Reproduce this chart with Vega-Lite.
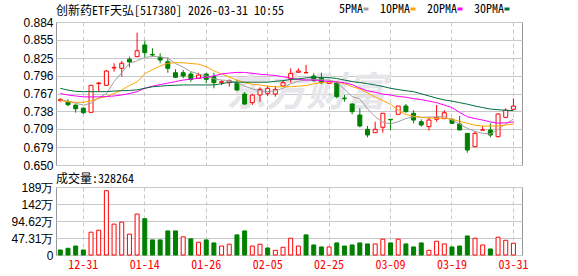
{
  "$schema": "https://vega.github.io/schema/vega-lite/v6.json",
  "background": "white",
  "padding": {"left": 10, "top": 3, "right": 0, "bottom": 0},
  "spacing": 0,
  "datasets": {
    "k": [
      {"d":"12-26","o":0.7553,"h":0.7591,"l":0.7536,"c":0.7573,"v":140000,"dir":"up","vdir":"down","5PMA":0.7564,"10PMA":0.7555,"20PMA":0.767,"30PMA":0.7755},
      {"d":"12-29","o":0.7536,"h":0.7575,"l":0.7465,"c":0.7485,"v":187000,"dir":"down","vdir":"down","5PMA":0.7545,"10PMA":0.7535,"20PMA":0.7645,"30PMA":0.7725},
      {"d":"12-30","o":0.748,"h":0.749,"l":0.7356,"c":0.742,"v":250000,"dir":"down","vdir":"down","5PMA":0.751,"10PMA":0.7527,"20PMA":0.763,"30PMA":0.7705},
      {"d":"12-31","o":0.743,"h":0.744,"l":0.7334,"c":0.7356,"v":140000,"dir":"down","vdir":"down","5PMA":0.748,"10PMA":0.7525,"20PMA":0.7615,"30PMA":0.77},
      {"d":"01-05","o":0.7362,"h":0.781,"l":0.7355,"c":0.7804,"v":635000,"dir":"up","vdir":"up","5PMA":0.751,"10PMA":0.755,"20PMA":0.7615,"30PMA":0.77},
      {"d":"01-06","o":0.7832,"h":0.786,"l":0.77,"c":0.7842,"v":690000,"dir":"up","vdir":"up","5PMA":0.76,"10PMA":0.759,"20PMA":0.7615,"30PMA":0.77},
      {"d":"01-07","o":0.7804,"h":0.8055,"l":0.78,"c":0.8038,"v":1790000,"dir":"up","vdir":"up","5PMA":0.7665,"10PMA":0.762,"20PMA":0.762,"30PMA":0.77},
      {"d":"01-08","o":0.8088,"h":0.8164,"l":0.8027,"c":0.8098,"v":860000,"dir":"up","vdir":"up","5PMA":0.7865,"10PMA":0.767,"20PMA":0.763,"30PMA":0.771},
      {"d":"01-09","o":0.8082,"h":0.8202,"l":0.7945,"c":0.8164,"v":915000,"dir":"up","vdir":"up","5PMA":0.801,"10PMA":0.773,"20PMA":0.7645,"30PMA":0.7715},
      {"d":"01-12","o":0.823,"h":0.8273,"l":0.8099,"c":0.8186,"v":580000,"dir":"down","vdir":"up","5PMA":0.8165,"10PMA":0.78,"20PMA":0.767,"30PMA":0.772},
      {"d":"01-13","o":0.8273,"h":0.8665,"l":0.8273,"c":0.837,"v":1140000,"dir":"up","vdir":"up","5PMA":0.8205,"10PMA":0.786,"20PMA":0.77,"30PMA":0.773},
      {"d":"01-14","o":0.8464,"h":0.8534,"l":0.8262,"c":0.8338,"v":1010000,"dir":"down","vdir":"down","5PMA":0.826,"10PMA":0.7995,"20PMA":0.7755,"30PMA":0.7755},
      {"d":"01-15","o":0.831,"h":0.841,"l":0.8273,"c":0.83,"v":420000,"dir":"down","vdir":"down","5PMA":0.8275,"10PMA":0.806,"20PMA":0.779,"30PMA":0.778},
      {"d":"01-16","o":0.8262,"h":0.8328,"l":0.8164,"c":0.8218,"v":420000,"dir":"down","vdir":"down","5PMA":0.827,"10PMA":0.812,"20PMA":0.7815,"30PMA":0.779},
      {"d":"01-19","o":0.819,"h":0.8262,"l":0.801,"c":0.8082,"v":670000,"dir":"down","vdir":"down","5PMA":0.8245,"10PMA":0.8165,"20PMA":0.784,"30PMA":0.78},
      {"d":"01-20","o":0.801,"h":0.8066,"l":0.7929,"c":0.7935,"v":670000,"dir":"down","vdir":"down","5PMA":0.816,"10PMA":0.8174,"20PMA":0.7865,"30PMA":0.7805},
      {"d":"01-21","o":0.801,"h":0.8055,"l":0.7919,"c":0.7956,"v":505000,"dir":"down","vdir":"up","5PMA":0.81,"10PMA":0.8174,"20PMA":0.789,"30PMA":0.781},
      {"d":"01-22","o":0.7989,"h":0.8027,"l":0.7863,"c":0.7902,"v":450000,"dir":"down","vdir":"down","5PMA":0.8027,"10PMA":0.816,"20PMA":0.7905,"30PMA":0.781},
      {"d":"01-23","o":0.7919,"h":0.801,"l":0.7919,"c":0.7973,"v":355000,"dir":"up","vdir":"up","5PMA":0.799,"10PMA":0.815,"20PMA":0.792,"30PMA":0.781},
      {"d":"01-26","o":0.7989,"h":0.8,"l":0.7837,"c":0.7902,"v":420000,"dir":"down","vdir":"down","5PMA":0.7956,"10PMA":0.811,"20PMA":0.7935,"30PMA":0.781},
      {"d":"01-27","o":0.7945,"h":0.801,"l":0.7755,"c":0.7847,"v":336000,"dir":"down","vdir":"down","5PMA":0.791,"10PMA":0.804,"20PMA":0.796,"30PMA":0.781},
      {"d":"01-28","o":0.7853,"h":0.7886,"l":0.7809,"c":0.7863,"v":250000,"dir":"up","vdir":"up","5PMA":0.789,"10PMA":0.799,"20PMA":0.799,"30PMA":0.783},
      {"d":"01-29","o":0.7847,"h":0.7902,"l":0.7782,"c":0.788,"v":300000,"dir":"up","vdir":"up","5PMA":0.788,"10PMA":0.794,"20PMA":0.8005,"30PMA":0.7855},
      {"d":"01-30","o":0.7837,"h":0.7891,"l":0.7716,"c":0.7727,"v":560000,"dir":"down","vdir":"down","5PMA":0.785,"10PMA":0.789,"20PMA":0.8015,"30PMA":0.7855},
      {"d":"02-02","o":0.7662,"h":0.769,"l":0.7482,"c":0.7498,"v":670000,"dir":"down","vdir":"down","5PMA":0.779,"10PMA":0.785,"20PMA":0.8015,"30PMA":0.7855},
      {"d":"02-03","o":0.752,"h":0.7662,"l":0.7482,"c":0.7645,"v":250000,"dir":"up","vdir":"up","5PMA":0.7745,"10PMA":0.782,"20PMA":0.8,"30PMA":0.7855},
      {"d":"02-04","o":0.7645,"h":0.7771,"l":0.7536,"c":0.7738,"v":300000,"dir":"up","vdir":"up","5PMA":0.7715,"10PMA":0.781,"20PMA":0.7985,"30PMA":0.7855},
      {"d":"02-05","o":0.7673,"h":0.7793,"l":0.7629,"c":0.7755,"v":196000,"dir":"up","vdir":"down","5PMA":0.77,"10PMA":0.779,"20PMA":0.7975,"30PMA":0.7855},
      {"d":"02-06","o":0.7662,"h":0.7793,"l":0.7618,"c":0.7738,"v":130000,"dir":"up","vdir":"up","5PMA":0.7715,"10PMA":0.778,"20PMA":0.7965,"30PMA":0.787},
      {"d":"02-09","o":0.7793,"h":0.788,"l":0.7793,"c":0.7847,"v":215000,"dir":"up","vdir":"up","5PMA":0.7755,"10PMA":0.778,"20PMA":0.7945,"30PMA":0.788},
      {"d":"02-10","o":0.7912,"h":0.8082,"l":0.7847,"c":0.8,"v":467000,"dir":"up","vdir":"up","5PMA":0.783,"10PMA":0.778,"20PMA":0.792,"30PMA":0.79},
      {"d":"02-11","o":0.8017,"h":0.8082,"l":0.8017,"c":0.8038,"v":250000,"dir":"up","vdir":"up","5PMA":0.787,"10PMA":0.779,"20PMA":0.79,"30PMA":0.791},
      {"d":"02-12","o":0.801,"h":0.8137,"l":0.801,"c":0.801,"v":560000,"dir":"up","vdir":"down","5PMA":0.789,"10PMA":0.78,"20PMA":0.789,"30PMA":0.7925},
      {"d":"02-13","o":0.7956,"h":0.8,"l":0.7863,"c":0.788,"v":280000,"dir":"down","vdir":"down","5PMA":0.79,"10PMA":0.783,"20PMA":0.789,"30PMA":0.7935},
      {"d":"02-24","o":0.7919,"h":0.801,"l":0.7825,"c":0.7847,"v":224000,"dir":"down","vdir":"down","5PMA":0.7895,"10PMA":0.785,"20PMA":0.788,"30PMA":0.7935},
      {"d":"02-25","o":0.7837,"h":0.788,"l":0.783,"c":0.7869,"v":224000,"dir":"up","vdir":"up","5PMA":0.789,"10PMA":0.786,"20PMA":0.7865,"30PMA":0.793},
      {"d":"02-26","o":0.784,"h":0.786,"l":0.7591,"c":0.7618,"v":336000,"dir":"down","vdir":"down","5PMA":0.7855,"10PMA":0.786,"20PMA":0.786,"30PMA":0.7915},
      {"d":"02-27","o":0.7595,"h":0.7645,"l":0.7536,"c":0.7585,"v":250000,"dir":"down","vdir":"down","5PMA":0.774,"10PMA":0.783,"20PMA":0.7845,"30PMA":0.789},
      {"d":"03-02","o":0.7498,"h":0.7509,"l":0.733,"c":0.7373,"v":280000,"dir":"down","vdir":"down","5PMA":0.762,"10PMA":0.778,"20PMA":0.7815,"30PMA":0.7865},
      {"d":"03-03","o":0.7318,"h":0.7428,"l":0.7117,"c":0.7138,"v":336000,"dir":"down","vdir":"down","5PMA":0.758,"10PMA":0.7745,"20PMA":0.776,"30PMA":0.785},
      {"d":"03-04","o":0.7084,"h":0.7138,"l":0.6953,"c":0.6991,"v":308000,"dir":"down","vdir":"down","5PMA":0.742,"10PMA":0.768,"20PMA":0.7715,"30PMA":0.783},
      {"d":"03-05","o":0.7029,"h":0.7208,"l":0.7029,"c":0.7084,"v":308000,"dir":"up","vdir":"up","5PMA":0.729,"10PMA":0.761,"20PMA":0.769,"30PMA":0.781},
      {"d":"03-06","o":0.7117,"h":0.7346,"l":0.7029,"c":0.7346,"v":440000,"dir":"up","vdir":"up","5PMA":0.72,"10PMA":0.7555,"20PMA":0.766,"30PMA":0.7785},
      {"d":"03-09","o":0.7248,"h":0.725,"l":0.7073,"c":0.724,"v":336000,"dir":"down","vdir":"down","5PMA":0.7175,"10PMA":0.749,"20PMA":0.7645,"30PMA":0.7755},
      {"d":"03-10","o":0.7329,"h":0.7465,"l":0.7329,"c":0.7465,"v":440000,"dir":"up","vdir":"up","5PMA":0.721,"10PMA":0.74,"20PMA":0.762,"30PMA":0.7735},
      {"d":"03-11","o":0.7465,"h":0.7498,"l":0.7356,"c":0.7373,"v":308000,"dir":"down","vdir":"down","5PMA":0.726,"10PMA":0.7325,"20PMA":0.761,"30PMA":0.7715},
      {"d":"03-12","o":0.7346,"h":0.7396,"l":0.7182,"c":0.7236,"v":224000,"dir":"down","vdir":"down","5PMA":0.729,"10PMA":0.73,"20PMA":0.7585,"30PMA":0.77},
      {"d":"03-13","o":0.7208,"h":0.7248,"l":0.7127,"c":0.7155,"v":336000,"dir":"down","vdir":"down","5PMA":0.728,"10PMA":0.728,"20PMA":0.757,"30PMA":0.7665},
      {"d":"03-16","o":0.7127,"h":0.728,"l":0.7062,"c":0.7236,"v":130000,"dir":"up","vdir":"up","5PMA":0.7285,"10PMA":0.727,"20PMA":0.7545,"30PMA":0.763},
      {"d":"03-17","o":0.7248,"h":0.7482,"l":0.7208,"c":0.728,"v":383000,"dir":"up","vdir":"up","5PMA":0.729,"10PMA":0.7265,"20PMA":0.752,"30PMA":0.7595},
      {"d":"03-18","o":0.7258,"h":0.7396,"l":0.7258,"c":0.7356,"v":308000,"dir":"up","vdir":"up","5PMA":0.729,"10PMA":0.7265,"20PMA":0.748,"30PMA":0.7565},
      {"d":"03-19","o":0.7248,"h":0.7264,"l":0.7171,"c":0.7182,"v":224000,"dir":"down","vdir":"down","5PMA":0.7236,"10PMA":0.725,"20PMA":0.744,"30PMA":0.7545},
      {"d":"03-20","o":0.7171,"h":0.7302,"l":0.707,"c":0.7073,"v":250000,"dir":"down","vdir":"down","5PMA":0.717,"10PMA":0.7215,"20PMA":0.736,"30PMA":0.752},
      {"d":"03-23","o":0.7018,"h":0.7018,"l":0.6701,"c":0.6745,"v":530000,"dir":"down","vdir":"down","5PMA":0.71,"10PMA":0.7182,"20PMA":0.729,"30PMA":0.7495},
      {"d":"03-24","o":0.6799,"h":0.7056,"l":0.6799,"c":0.7018,"v":467000,"dir":"up","vdir":"up","5PMA":0.705,"10PMA":0.715,"20PMA":0.726,"30PMA":0.7465},
      {"d":"03-25","o":0.707,"h":0.7138,"l":0.707,"c":0.7075,"v":280000,"dir":"up","vdir":"up","5PMA":0.7018,"10PMA":0.7138,"20PMA":0.7235,"30PMA":0.744},
      {"d":"03-26","o":0.7073,"h":0.7182,"l":0.6953,"c":0.6991,"v":168000,"dir":"down","vdir":"down","5PMA":0.7007,"10PMA":0.7138,"20PMA":0.7205,"30PMA":0.7415},
      {"d":"03-27","o":0.6963,"h":0.7346,"l":0.6953,"c":0.7334,"v":495000,"dir":"up","vdir":"up","5PMA":0.708,"10PMA":0.7138,"20PMA":0.7185,"30PMA":0.7405},
      {"d":"03-30","o":0.728,"h":0.7428,"l":0.728,"c":0.7396,"v":410000,"dir":"up","vdir":"up","5PMA":0.717,"10PMA":0.7155,"20PMA":0.719,"30PMA":0.7395},
      {"d":"03-31","o":0.7411,"h":0.7591,"l":0.7411,"c":0.7465,"v":328264,"dir":"up","vdir":"up","5PMA":0.7253,"10PMA":0.717,"20PMA":0.7205,"30PMA":0.739}
    ]
  },
  "config": {
    "view": {"stroke": "#999999", "strokeWidth": 1},
    "axis": {"domain": false, "ticks": false, "title": null, "labelOverlap": false, "labelFont": "Liberation Sans", "labelFontSize": 12, "labelColor": "#000000", "labelPadding": 3, "gridColor": "#C8C8C8", "gridWidth": 1, "gridOpacity": 1},
    "legend": {"orient": "none", "legendX": 304, "legendY": -19, "direction": "horizontal", "title": null, "symbolType": "stroke", "symbolStrokeWidth": 3, "symbolSize": 25, "labelFont": "Noto Sans Mono CJK SC", "labelFontSize": 12, "labelColor": "#000000", "labelAlign": "right", "labelOffset": -9, "columnPadding": 4, "padding": 0}
  },
  "vconcat": [
    {
      "width": 466,
      "height": 143,
      "title": {"text": "创新药ETF天弘[517380] 2026-03-31 10:55", "anchor": "start", "frame": "group", "font": "Noto Sans Mono CJK SC", "fontSize": 12, "fontWeight": "normal", "color": "#000000", "offset": -2},
      "data": {"name": "k"},
      "layer": [
        {
          "mark": {"type": "rule", "strokeWidth": 1},
          "encoding": {
            "x": {"field": "d", "type": "ordinal", "sort": null,
                  "scale": {"type": "band", "paddingInner": 0, "paddingOuter": 0.34, "align": 0.09},
                  "axis": {"labels": false, "grid": true, "gridDash": [4, 3], "gridColor": "#C8C8C8", "bandPosition": 0.5, "values": ["12-31","01-14","01-26","02-05","02-25","03-09","03-19","03-31"]}},
            "y": {"field": "l", "type": "quantitative", "scale": {"domain": [0.65, 0.884], "nice": false, "zero": false},
                  "axis": {"grid": true, "labelOverlap": false, "tickCount": 9, "values": [0.65, 0.679, 0.709, 0.738, 0.767, 0.796, 0.825, 0.855, 0.884], "format": ".3f"}},
            "y2": {"field": "h"},
            "color": {"condition": {"test": "datum.dir == 'up'", "value": "#FF0000"}, "value": "#008000"},
            "opacity": {"value": 0}
          }
        },
        {
          "transform": [{"filter": "datum.d == '02-12'"}],
          "mark": {"type": "text", "text": "东方财富", "font": "Noto Sans CJK SC", "fontSize": 40, "fontWeight": "bold", "fontStyle": "italic", "color": "#E6E6EA", "align": "center", "baseline": "middle"},
          "encoding": {
            "x": {"field": "d", "type": "ordinal", "sort": null},
            "y": {"datum": 0.767, "type": "quantitative",
                  "axis": {"grid": true, "labelOverlap": false, "tickCount": 9, "values": [0.65, 0.679, 0.709, 0.738, 0.767, 0.796, 0.825, 0.855, 0.884], "format": ".3f"}}
          }
        },
        {
          "mark": {"type": "rule", "strokeWidth": 1},
          "encoding": {
            "x": {"field": "d", "type": "ordinal", "sort": null},
            "y": {"field": "l", "type": "quantitative",
                  "axis": {"grid": true, "labelOverlap": false, "tickCount": 9, "values": [0.65, 0.679, 0.709, 0.738, 0.767, 0.796, 0.825, 0.855, 0.884], "format": ".3f"}},
            "y2": {"field": "h"},
            "color": {"condition": {"test": "datum.dir == 'up'", "value": "#FF0000"}, "value": "#008000"}
          }
        },
        {
          "mark": {"type": "bar", "size": 4, "strokeWidth": 1},
          "encoding": {
            "x": {"field": "d", "type": "ordinal", "sort": null},
            "y": {"field": "o", "type": "quantitative",
                  "axis": {"grid": true, "labelOverlap": false, "tickCount": 9, "values": [0.65, 0.679, 0.709, 0.738, 0.767, 0.796, 0.825, 0.855, 0.884], "format": ".3f"}},
            "y2": {"field": "c"},
            "fill": {"condition": {"test": "datum.dir == 'up'", "value": "#FFFFFF"}, "value": "#008000"},
            "stroke": {"condition": {"test": "datum.dir == 'up'", "value": "#FF0000"}, "value": "#008000"}
          }
        },
        {
          "transform": [{"fold": ["5PMA", "10PMA", "20PMA", "30PMA"], "as": ["ma", "val"]}],
          "mark": {"type": "line", "strokeWidth": 1},
          "encoding": {
            "x": {"field": "d", "type": "ordinal", "sort": null},
            "y": {"field": "val", "type": "quantitative",
                  "axis": {"grid": true, "labelOverlap": false, "tickCount": 9, "values": [0.65, 0.679, 0.709, 0.738, 0.767, 0.796, 0.825, 0.855, 0.884], "format": ".3f"}},
            "color": {"field": "ma", "type": "nominal",
                      "scale": {"domain": ["5PMA", "10PMA", "20PMA", "30PMA"], "range": ["#A0A0A0", "#FFA500", "#FF00FF", "#006F3C"]}}
          }
        }
      ]
    },
    {
      "width": 466,
      "height": 68,
      "title": {"text": "成交量:328264", "anchor": "start", "frame": "group", "font": "Noto Sans Mono CJK SC", "fontSize": 12, "fontWeight": "normal", "color": "#000000", "offset": -5},
      "data": {"name": "k"},
      "mark": {"type": "bar", "size": 4, "strokeWidth": 1},
      "encoding": {
        "x": {"field": "d", "type": "ordinal", "sort": null,
              "scale": {"type": "band", "paddingInner": 0, "paddingOuter": 0.34, "align": 0.09},
              "axis": {"labelAngle": 0, "labelColor": "#FF0000", "labelFont": "Noto Sans Mono CJK SC", "labelFontSize": 12, "labelPadding": 4, "grid": true, "gridDash": [4, 3], "gridColor": "#C8C8C8", "bandPosition": 0.5, "values": ["12-31","01-14","01-26","02-05","02-25","03-09","03-19","03-31"]}},
        "y": {"field": "v", "type": "quantitative", "scale": {"domain": [0, 1892400], "nice": false},
              "axis": {"grid": true, "labelOverlap": false, "values": [0, 473100, 946200, 1419300, 1892400],
                       "labelExpr": "datum.value == 0 ? '0' : datum.value >= 1000000 ? format(datum.value / 10000, '.0f') + '万' : format(datum.value / 10000, '.2f') + '万'"}},
        "fill": {"condition": {"test": "datum.vdir == 'up'", "value": "#FFFFFF"}, "value": "#008000"},
        "stroke": {"condition": {"test": "datum.vdir == 'up'", "value": "#FF0000"}, "value": "#008000"}
      }
    }
  ]
}
